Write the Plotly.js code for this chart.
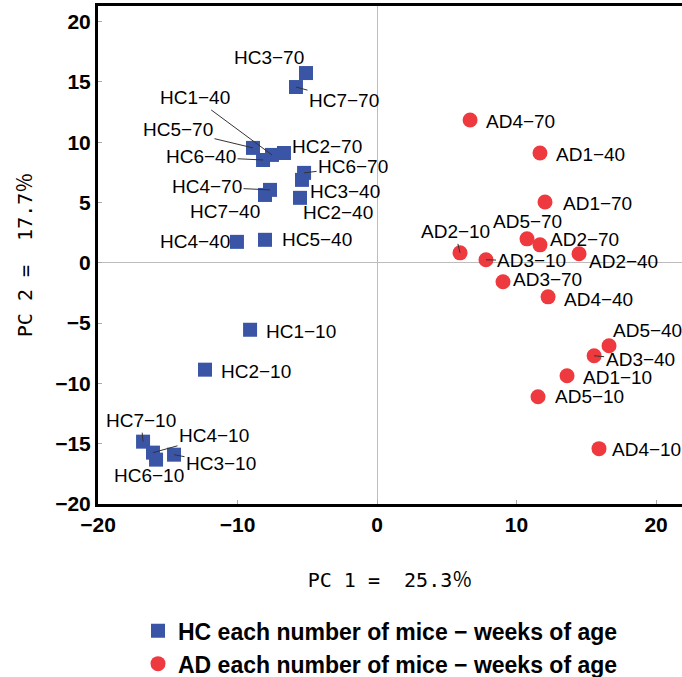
<!DOCTYPE html>
<html>
<head>
<meta charset="utf-8">
<script src="https://cdn.plot.ly/plotly-3.0.1.min.js"></script>
<style>html,body{margin:0;padding:0;background:#fff;}#chart{width:682px;height:677px;}</style>
</head>
<body>
<div id="chart"></div>
<script>
// ---- data ----
const hcLabels = ["HC3−70","HC7−70","HC1−40","HC5−70","HC6−40","HC2−70","HC6−70","HC3−40","HC2−40","HC4−70","HC7−40","HC4−40","HC5−40","HC1−10","HC2−10","HC7−10","HC4−10","HC6−10","HC3−10"];
const hcX = [-5.09,-5.81,-7.53,-8.89,-8.17,-6.67,-5.23,-5.38,-5.52,-7.67,-8.03,-10.04,-8.03,-9.10,-12.33,-16.77,-16.06,-15.84,-14.55];
const hcY = [15.74,14.58,8.95,9.53,8.53,9.11,7.46,6.88,5.39,6.05,5.63,1.74,1.91,-5.55,-8.86,-14.83,-15.74,-16.32,-15.91];

const adLabels = ["AD4−70","AD1−40","AD1−70","AD5−70","AD2−70","AD2−40","AD2−10","AD3−10","AD3−70","AD4−40","AD5−40","AD3−40","AD1−10","AD5−10","AD4−10"];
const adX = [6.67,11.68,12.04,10.75,11.68,14.48,5.95,7.81,9.03,12.26,16.63,15.56,13.62,11.54,15.91];
const adY = [11.85,9.11,5.05,1.99,1.49,0.75,0.83,0.25,-1.57,-2.82,-6.88,-7.71,-9.36,-11.11,-15.41];

const seriesNames = ["HC each number of mice − weeks of age","AD each number of mice − weeks of age"];
const xTitle = "PC 1 =  25.3％";
const yTitle = "PC 2 =  17.7％";

// ---- label placement (layout only): [dx, dy, leader] in pixels ----
const labelPlacement = {
  "HC3−70":[-37,-16,0],"HC7−70":[48,13,1],"HC1−40":[-77,-57,1],"HC5−70":[-75,-18,1],
  "HC6−40":[-62,-3,1],"HC2−70":[43,-6,0],"HC6−70":[49,-6,1],"HC3−40":[43,12,0],
  "HC2−40":[38,15,0],"HC4−70":[-63,-3,1],"HC7−40":[-40,17,0],"HC4−40":[-42,0,0],
  "HC5−40":[52,0,0],"HC1−10":[51,2,0],"HC2−10":[51,2,0],"HC7−10":[-2,-21,1],
  "HC4−10":[61,-17,1],"HC6−10":[-7,16,0],"HC3−10":[47,9,1],
  "AD4−70":[50,2,0],"AD1−40":[51,2,0],"AD1−70":[52,2,0],"AD5−70":[0,-17,0],
  "AD2−70":[45,-5,0],"AD2−40":[44,8,0],"AD2−10":[-5,-21,1],"AD3−10":[46,1,1],
  "AD3−70":[44,-2,0],"AD4−40":[50,3,0],"AD5−40":[38,-15,0],"AD3−40":[46,4,1],
  "AD1−10":[50,2,0],"AD5−10":[51,0,0],"AD4−10":[48,1,0]
};

const blue = "#3a55a6";
const red = "#ee3a3f";
const titleFont = "DejaVu Sans Mono, Noto Sans CJK JP, monospace";

const traces = [
  {x: hcX, y: hcY, text: hcLabels, type: "scatter", mode: "markers", name: seriesNames[0],
   legendgroup: "hc", hoverinfo: "text",
   marker: {symbol: "square", size: 14, color: blue}},
  {x: adX, y: adY, text: adLabels, type: "scatter", mode: "markers", name: seriesNames[1],
   legendgroup: "ad", hoverinfo: "text",
   marker: {symbol: "circle", size: 15, color: red}}
];

function makeAnnotations(xs, ys, labels) {
  return labels.map((lab, i) => {
    const p = labelPlacement[lab] || [45, 0, 0];
    return {
      x: xs[i], y: ys[i], xref: "x", yref: "y", text: lab,
      showarrow: true, ax: p[0], ay: p[1], arrowhead: 0, arrowwidth: 1,
      arrowcolor: p[2] ? "#333" : "rgba(0,0,0,0)", standoff: 0,
      font: {family: "Liberation Sans, Arial, sans-serif", size: 19, color: "#000"}
    };
  });
}

const annotations = makeAnnotations(hcX, hcY, hcLabels).concat(makeAnnotations(adX, adY, adLabels));

const layout = {
  width: 682, height: 677,
  margin: {l: 98, r: 0, t: 6, b: 173, autoexpand: false},
  paper_bgcolor: "#fff", plot_bgcolor: "#fff",
  showlegend: true,
  xaxis: {
    range: [-20, 21.86], tickvals: [-20,-10,0,10,20],
    showgrid: false, zeroline: true, zerolinecolor: "#bdbdbd", zerolinewidth: 1,
    showline: true, linecolor: "#000", linewidth: 3, mirror: true,
    ticks: "inside", ticklen: 4, tickcolor: "#aaa", tickwidth: 1,
    tickfont: {family: "Liberation Sans, Arial, sans-serif", size: 21, color: "#000", weight: "bold"},
    title: {text: xTitle, standoff: 38, font: {family: titleFont, size: 20, color: "#000"}}
  },
  yaxis: {
    range: [-20, 21.3], tickvals: [-20,-15,-10,-5,0,5,10,15,20],
    showgrid: false, zeroline: true, zerolinecolor: "#bdbdbd", zerolinewidth: 1,
    showline: true, linecolor: "#000", linewidth: 3, mirror: false,
    ticks: "inside", ticklen: 4, tickcolor: "#aaa", tickwidth: 1,
    tickfont: {family: "Liberation Sans, Arial, sans-serif", size: 21, color: "#000", weight: "bold"},
    title: {text: yTitle, standoff: 18, font: {family: titleFont, size: 20, color: "#000"}}
  },
  legend: {
    x: 0.0685, xanchor: "left", y: 0.1, yanchor: "top", yref: "container",
    orientation: "v", traceorder: "grouped", tracegroupgap: 0,
    font: {family: "Liberation Sans, Arial, sans-serif", size: 23, color: "#000", weight: "bold"},
    bgcolor: "rgba(0,0,0,0)"
  },
  annotations: annotations
};

Plotly.newPlot("chart", traces, layout, {displayModeBar: false, staticPlot: true});
</script>
</body>
</html>
